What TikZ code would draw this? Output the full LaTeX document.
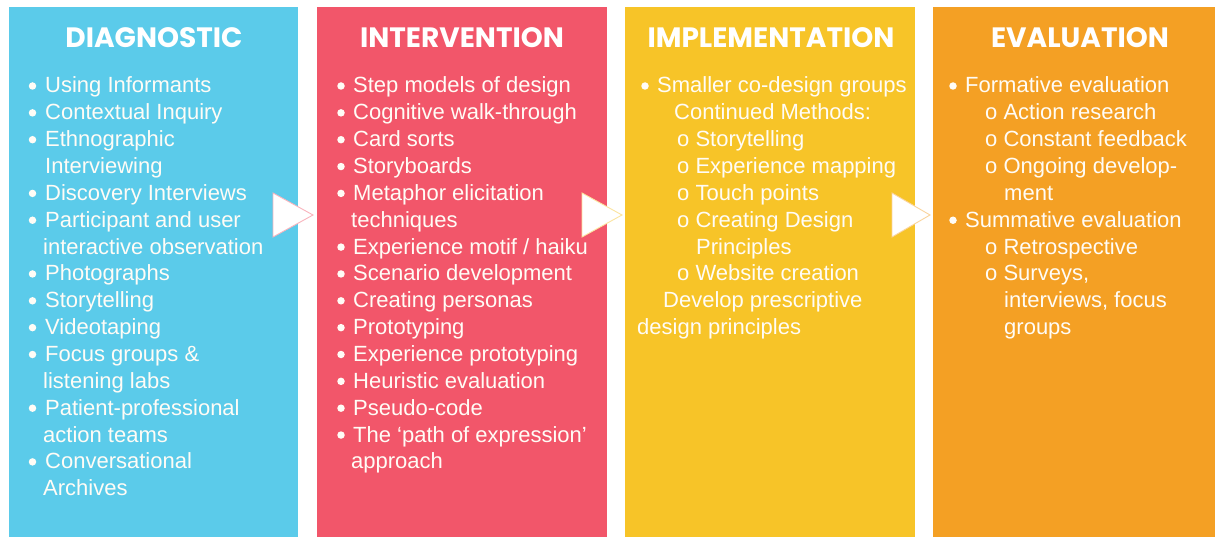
\documentclass[tikz,border=0pt]{standalone}
\usepackage{fontspec}
\setmainfont{Liberation Sans}
\newfontfamily\titlefont{Poppins}
\definecolor{cblue}{RGB}{91,203,234}
\definecolor{cred}{RGB}{242,86,106}
\definecolor{cyel}{RGB}{247,196,40}
\definecolor{corg}{RGB}{244,160,36}
\definecolor{txtc}{RGB}{255,252,246}
\tikzset{
  col/.style={fill=#1, draw=none, anchor=north west, inner sep=0pt, minimum height=530pt},
  ttl/.style={text=white, font=\titlefont\bfseries\fontsize{28}{28}\selectfont, anchor=base, inner sep=0pt},
  ln/.style={text=txtc, font=\fontsize{22}{22}\selectfont, anchor=base west, inner sep=0pt},
  bul/.style={fill=txtc, draw=none, circle, inner sep=0pt, minimum size=7.5pt},
  tri/.style={fill=white, draw=#1!45, line width=0.9pt, line join=miter},
}
\begin{document}
\begin{tikzpicture}[x=1pt,y=-1pt]
\useasboundingbox (0,0) rectangle (1215,537);
\fill[white] (0,0) rectangle (1215,537);
% columns
\node[col=cblue, minimum width=289pt] (c1) at (9,7) {};
\node[col=cred, minimum width=290pt] (c2) at (317,7) {};
\node[col=cyel, minimum width=290pt] (c3) at (625,7) {};
\node[col=corg, minimum width=282pt] (c4) at (933,7) {};
% titles
\node[ttl] (t1) at (154,48) {DIAGNOSTIC};
\node[ttl] (t2) at (462,48) {INTERVENTION};
\node[ttl] (t3) at (771,48) {IMPLEMENTATION};
\node[ttl] (t4) at (1080,48) {EVALUATION};
% arrows
\coordinate (a1) at (273,193); \coordinate (b1) at (273,237); \coordinate (p1) at (313,215);
\coordinate (a2) at (582,193); \coordinate (b2) at (582,237); \coordinate (p2) at (622,215);
\coordinate (a3) at (892,193); \coordinate (b3) at (892,237); \coordinate (p3) at (930,215);
\filldraw[tri=cred] (a1) -- (p1) -- (b1) -- cycle;
\filldraw[tri=cyel] (a2) -- (p2) -- (b2) -- cycle;
\filldraw[tri=corg] (a3) -- (p3) -- (b3) -- cycle;
% column 1
\foreach \i/\b/\x/\t in {0/1/45/{Using Informants}, 1/1/45/{Contextual Inquiry}, 2/1/45/{Ethnographic}, 3/0/45/{Interviewing}, 4/1/45/{Discovery Interviews}, 5/1/45/{Participant and user}, 6/0/43/{interactive observation}, 7/1/45/{Photographs}, 8/1/45/{Storytelling}, 9/1/45/{Videotaping}, 10/1/45/{Focus groups \&}, 11/0/43/{listening labs}, 12/1/45/{Patient-professional}, 13/0/43/{action teams}, 14/1/45/{Conversational}, 15/0/43/{Archives}}{
  \node[ln] (d\i) at (\x,93+26.85*\i) {\t};
  \ifnum\b=1 \node[bul] (db\i) at (32.5,86+26.85*\i) {}; \fi
}
% column 2
\foreach \i/\b/\x/\t in {0/1/353/{Step models of design}, 1/1/353/{Cognitive walk-through}, 2/1/353/{Card sorts}, 3/1/353/{Storyboards}, 4/1/353/{Metaphor elicitation}, 5/0/351/{techniques}, 6/1/353/{Experience motif / haiku}, 7/1/353/{Scenario development}, 8/1/353/{Creating personas}, 9/1/353/{Prototyping}, 10/1/353/{Experience prototyping}, 11/1/353/{Heuristic evaluation}, 12/1/353/{Pseudo-code}, 13/1/353/{The ‘path of expression’}, 14/0/351/{approach}}{
  \node[ln] (r\i) at (\x,93+26.85*\i) {\t};
  \ifnum\b=1 \node[bul] (rb\i) at (341,86+26.85*\i) {}; \fi
}
% column 3
\foreach \i/\b/\x/\t in {0/1/657/{Smaller co-design groups}, 1/0/674/{Continued Methods:}, 2/0/677/{o Storytelling}, 3/0/677/{o Experience mapping}, 4/0/677/{o Touch points}, 5/0/677/{o Creating Design}, 6/0/696/{Principles}, 7/0/677/{o Website creation}, 8/0/663/{Develop prescriptive}, 9/0/637/{design principles}}{
  \node[ln] (y\i) at (\x,93+26.85*\i) {\t};
  \ifnum\b=1 \node[bul] (yb\i) at (645,86+26.85*\i) {}; \fi
}
% column 4
\foreach \i/\b/\x/\t in {0/1/965/{Formative evaluation}, 1/0/985/{o Action research}, 2/0/985/{o Constant feedback}, 3/0/985/{o Ongoing develop-}, 4/0/1004/{ment}, 5/1/965/{Summative evaluation}, 6/0/985/{o Retrospective}, 7/0/985/{o Surveys,}, 8/0/1004/{interviews, focus}, 9/0/1004/{groups}}{
  \node[ln] (o\i) at (\x,93+26.85*\i) {\t};
  \ifnum\b=1 \node[bul] (ob\i) at (953,86+26.85*\i) {}; \fi
}
\end{tikzpicture}
\end{document}
